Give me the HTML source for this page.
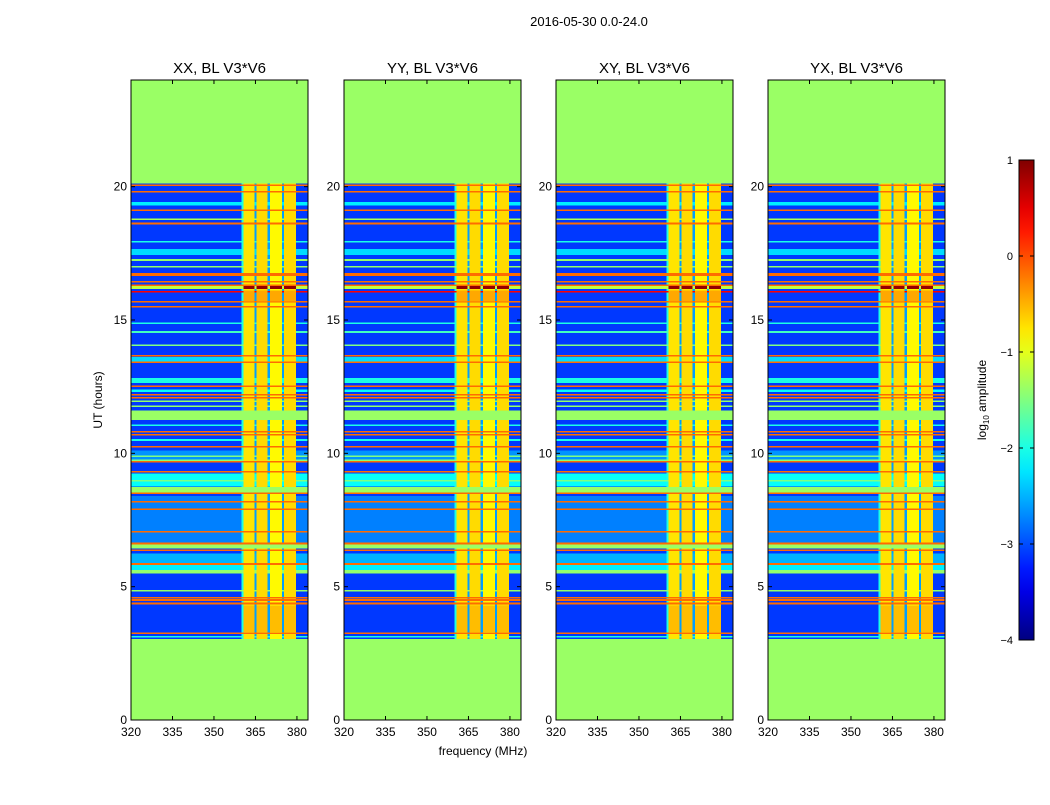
<!DOCTYPE html>
<html><head><meta charset="utf-8"><style>
html,body{margin:0;padding:0;background:#fff;}
svg text{font-family:"Liberation Sans",sans-serif;fill:#000;}
</style></head><body>
<svg id="chart" xmlns="http://www.w3.org/2000/svg" width="1050" height="800" viewBox="0 0 1050 800">
<rect width="1050" height="800" fill="#fff"/>
<text x="589" y="26" font-size="13" text-anchor="middle">2016-05-30 0.0-24.0</text>
<text x="483" y="755" font-size="12" text-anchor="middle">frequency (MHz)</text>
<text x="0" y="0" font-size="12" text-anchor="middle" transform="translate(102,400) rotate(-90)">UT (hours)</text>
<g id="panels"></g>
<g id="cbar"></g>
</svg>
<script>
// Panel titles
const panelTitles = ["XX, BL V3*V6","YY, BL V3*V6","XY, BL V3*V6","YX, BL V3*V6"];
// Axis ticks
const yTicks = [0,5,10,15,20];
const xTicks = [320,335,350,365,380];
const cbTicks = [1,0,-1,-2,-3,-4];
// Frequency column segments (MHz) and their log10 amplitude
const colStart = [320,360,360.6,364.6,365.4,369.4,370.2,374.6,375.4,379.6];
const colEnd   = [360,360.6,364.6,365.4,369.4,370.2,374.6,375.4,379.6,384];
const colValue = [-3.1,-2.0,-0.75,-2.6,-0.7,-2.6,-0.85,-2.6,-0.7,-3.1];
// Data time range (hours) and fill value
const dataStart = 3.03, dataEnd = 20.12, fillValue = -1.37;
// Time events (hours): start, end, value, gap flag, RFI-band override
const evStart = [20.03,19.78,19.3,19.09,18.75,18.59,17.91,17.44,17.22,16.97,16.65,16.41,16.28,16.16,16.03,15.66,15.47,15.7,14.85,14.52,14.03,13.63,13.44,13.38,12.64,12.49,12.3,12.17,12.05,11.92,11.73,11.25,11.03,10.78,10.66,10.47,10.22,9.7,9.87,9.72,9.66,9.28,8.75,8.95,8.5,8.47,6.62,8.16,7.87,7.03,6.44,6.59,6.34,5.87,5.82,5.62,5.5,4.82,4.56,4.47,4.34,3.22,3.09,3.3];
const evEnd   = [20.09,19.84,19.42,19.15,18.8,18.65,17.97,17.66,17.28,17.03,16.76,16.47,16.34,16.27,16.09,15.72,15.53,16.1,14.91,14.58,14.09,13.69,13.62,13.44,12.83,12.55,12.4,12.23,12.11,11.98,11.79,11.6,11.09,10.84,10.72,10.53,10.28,10.1,9.92,9.77,9.72,9.34,9.25,9.0,8.74,8.53,8.4,8.22,7.93,7.09,6.62,6.65,6.4,6.25,5.88,5.81,5.62,4.88,4.62,4.53,4.4,3.28,3.15,4.3];
const evValue = [-0.15,-0.15,-2.2,-0.15,-1.3,-0.15,-2.0,-2.3,-1.4,-1.4,-0.15,-0.15,-0.15,-1.2,0.4,-0.15,-0.15,-3.1,-2.0,-1.8,-1.5,-0.15,-2.3,-0.15,-2.0,-0.15,-2.1,-0.15,-0.15,-1.4,-1.4,-1.37,-2.0,-0.15,-0.15,-2.0,-0.15,-2.65,-1.5,-1.5,-0.15,-0.15,-2.1,-1.5,-1.37,-0.15,-2.75,-0.15,-0.15,-0.15,-1.37,-0.15,-0.15,-2.5,-0.15,-2.2,-1.4,-1.4,-0.15,-0.15,-0.15,-0.15,-2.0,-3.1];
const evGap   = [0,0,0,0,0,0,0,0,0,0,0,0,0,0,0,0,0,0,0,0,0,0,0,0,0,0,0,0,0,0,0,1,0,0,0,0,0,0,0,0,0,0,0,0,1,0,0,0,0,0,1,0,0,0,0,0,0,0,0,0,0,0,0,0];
const evRfi   = [null,null,null,null,null,null,null,null,null,null,null,null,null,0.9,null,null,null,-0.45,null,null,null,null,null,null,null,null,null,null,null,null,null,null,null,null,null,null,null,null,null,null,null,null,null,null,null,null,null,null,null,null,null,null,null,null,null,null,null,null,null,null,null,null,null,-0.55];

const NS = "http://www.w3.org/2000/svg";
function jet(v){
  let t=(v+4)/5; t=Math.max(0,Math.min(1,t));
  const c=x=>Math.round(255*Math.max(0,Math.min(1,x)));
  return `rgb(${c(1.5-Math.abs(4*t-3))},${c(1.5-Math.abs(4*t-2))},${c(1.5-Math.abs(4*t-1))})`;
}
const panelX = [131,344,556,768], panelW = 177, pTop = 80, pBottom = 720;
const fMin = 320, fMax = 384, tMin = 0, tMax = 24;
function mk(tag, attrs, parent){const e=document.createElementNS(NS,tag);for(const k in attrs)e.setAttribute(k,attrs[k]);parent.appendChild(e);return e;}
const panels = document.getElementById('panels');
panelTitles.forEach((title, p) => {
  const x0 = panelX[p];
  const xs = f => x0 + (f - fMin) / (fMax - fMin) * panelW;
  const ys = t => pBottom - (t - tMin) / (tMax - tMin) * (pBottom - pTop);
  const g = mk('g', {}, panels);
  
  
  const bg = mk('rect', {x:x0, y:pTop, width:panelW, height:pBottom-pTop, fill:jet(fillValue)}, g);
  
  
  const hm = mk('g', {'shape-rendering':'crispEdges'}, g);
  
  
  for (let c = 0; c < colStart.length; c++) {
    const r = mk('rect', {x:xs(colStart[c]), y:ys(dataEnd), width:xs(colEnd[c])-xs(colStart[c]), height:ys(dataStart)-ys(dataEnd), fill:jet(colValue[c])}, hm);
    
    
  }
  for (let e = 0; e < evStart.length; e++) {
    for (let c = 0; c < colStart.length; c++) {
      let v;
      if (evGap[e]) v = evValue[e];
      else if (evRfi[e] !== null && colValue[c] > -1.5) v = evRfi[e];
      else v = Math.max(evValue[e], colValue[c]);
      if (v === colValue[c]) continue;
      const r = mk('rect', {x:xs(colStart[c]), y:ys(evEnd[e]), width:xs(colEnd[c])-xs(colStart[c]), height:ys(evStart[e])-ys(evEnd[e]), fill:jet(v)}, hm);
      
      
    }
  }
  const frame = mk('rect', {x:x0, y:pTop, width:panelW, height:pBottom-pTop, fill:'none', stroke:'#000', 'stroke-width':1}, g);
  
  
  const tt = mk('text', {x:x0+panelW/2, y:73, 'font-size':15, 'text-anchor':'middle'}, g);
  tt.textContent = title;
  
  
  yTicks.forEach(t => {
    const y = ys(t);
    mk('line', {x1:x0, x2:x0+4, y1:y, y2:y, stroke:'#000'}, g);
    mk('line', {x1:x0+panelW-4, x2:x0+panelW, y1:y, y2:y, stroke:'#000'}, g);
    const l = mk('text', {x:x0-4, y:y+4, 'font-size':12, 'text-anchor':'end'}, g);
    l.textContent = t;
    
    
  });
  xTicks.forEach(f => {
    const x = xs(f);
    mk('line', {x1:x, x2:x, y1:pBottom, y2:pBottom-4, stroke:'#000'}, g);
    mk('line', {x1:x, x2:x, y1:pTop, y2:pTop+4, stroke:'#000'}, g);
    const l = mk('text', {x:x, y:pBottom+16, 'font-size':12, 'text-anchor':'middle'}, g);
    l.textContent = f;
    
    
  });
});
const cb = document.getElementById('cbar');
const cbX = 1019, cbW = 15, cbTop = 160, cbBot = 640, cbMin = -4, cbMax = 1;
const defs = mk('defs', {}, cb);
const grad = mk('linearGradient', {id:'jetg', x1:0, y1:1, x2:0, y2:0}, defs);
for (let i = 0; i <= 20; i++) mk('stop', {offset:i/20, 'stop-color':jet(cbMin + i/20*(cbMax-cbMin))}, grad);
const cbRect = mk('rect', {x:cbX, y:cbTop, width:cbW, height:cbBot-cbTop, fill:'url(#jetg)', stroke:'#000'}, cb);


const cys = v => cbBot - (v - cbMin) / (cbMax - cbMin) * (cbBot - cbTop);
cbTicks.forEach(v => {
  const y = cys(v);
  mk('line', {x1:cbX, x2:cbX+4, y1:y, y2:y, stroke:'#000'}, cb);
  mk('line', {x1:cbX+cbW-4, x2:cbX+cbW, y1:y, y2:y, stroke:'#000'}, cb);
  const l = mk('text', {x:cbX-6, y:y+4, 'font-size':11, 'text-anchor':'end'}, cb);
  l.textContent = v < 0 ? '\u2212' + Math.abs(v) : String(v);
  
  
});
const cbl = mk('text', {x:0, y:0, 'font-size':12, 'text-anchor':'middle', transform:'translate(986,400) rotate(-90)'}, cb);
cbl.innerHTML = 'log<tspan font-size="8" dy="3">10</tspan><tspan dy="-3"> amplitude</tspan>';


</script>
</body></html>
